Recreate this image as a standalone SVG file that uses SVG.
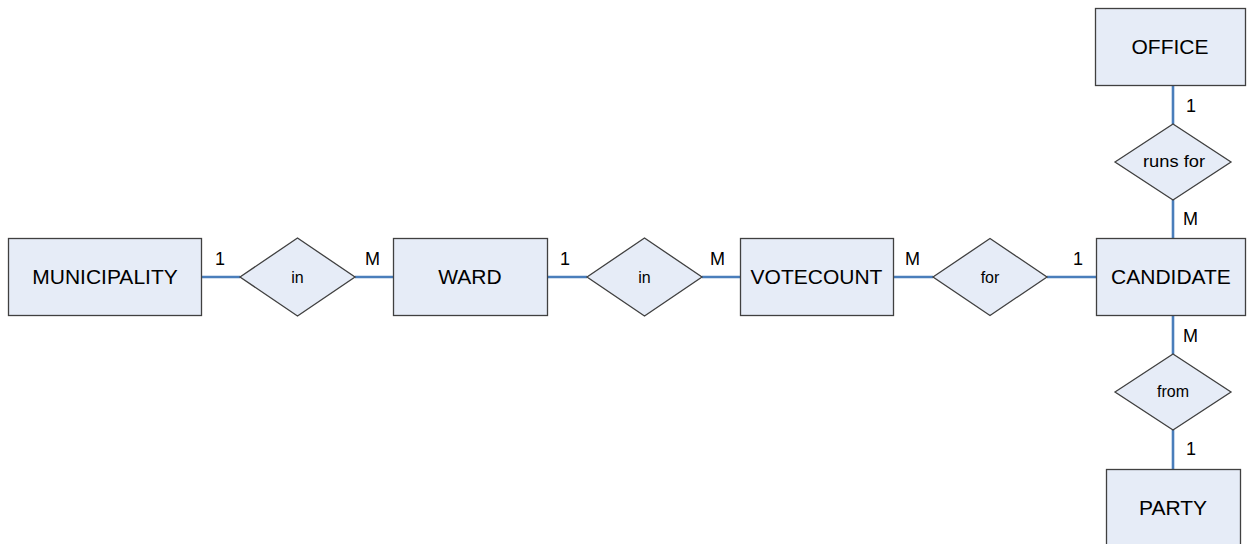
<svg xmlns="http://www.w3.org/2000/svg" width="1247" height="544" viewBox="0 0 1247 544">
<style>
.ent{fill:#E6ECF7;stroke:#404040;stroke-width:1.3}
.rel{fill:#E6ECF7;stroke:#404040;stroke-width:1.3}
.conn{stroke:#4A7EBB;stroke-width:2.6;fill:none}
.et{font-family:"Liberation Sans",Arial,sans-serif;font-size:21px;fill:#000;text-anchor:middle}
.rt{font-family:"Liberation Sans",Arial,sans-serif;font-size:16px;fill:#000;text-anchor:middle}
.card{font-family:"Liberation Sans",Arial,sans-serif;font-size:18px;fill:#000}
</style>
<rect width="1247" height="544" fill="#fff"/>
<g id="connectors">
<line class="conn" x1="201" y1="277" x2="240" y2="277"/>
<line class="conn" x1="355" y1="277" x2="393" y2="277"/>
<line class="conn" x1="547" y1="277" x2="587" y2="277"/>
<line class="conn" x1="702" y1="277" x2="740" y2="277"/>
<line class="conn" x1="893" y1="277" x2="933" y2="277"/>
<line class="conn" x1="1047" y1="277" x2="1096" y2="277"/>
<line class="conn" x1="1173" y1="85" x2="1173" y2="124"/>
<line class="conn" x1="1173" y1="200" x2="1173" y2="239"/>
<line class="conn" x1="1173" y1="315" x2="1173" y2="354"/>
<line class="conn" x1="1173" y1="430" x2="1173" y2="469"/>
</g>
<g id="municipality"><rect class="ent" x="8.5" y="238.5" width="193" height="77"/><text class="et" x="105" y="284">MUNICIPALITY</text></g>
<g id="in1"><polygon class="rel" points="240,277 297.5,238 355,277 297.5,316"/><text class="rt" x="297.5" y="283">in</text></g>
<g id="ward"><rect class="ent" x="393.5" y="238.5" width="154" height="77"/><text class="et" x="470" y="284">WARD</text></g>
<g id="in2"><polygon class="rel" points="587,277 644.5,238 702,277 644.5,316"/><text class="rt" x="644.5" y="283">in</text></g>
<g id="votecount"><rect class="ent" x="740.5" y="238.5" width="153" height="77"/><text class="et" x="816.5" y="284">VOTECOUNT</text></g>
<g id="for"><polygon class="rel" points="933,277 990,238.5 1047,277 990,315.5"/><text class="rt" x="990" y="283">for</text></g>
<g id="candidate"><rect class="ent" x="1096.5" y="238.5" width="149" height="77"/><text class="et" x="1171" y="284">CANDIDATE</text></g>
<g id="office"><rect class="ent" x="1095.5" y="8.5" width="150" height="77"/><text class="et" x="1170" y="54">OFFICE</text></g>
<g id="runsfor"><polygon class="rel" points="1115,162 1173,124 1231,162 1173,200"/><text class="rt" x="1174" y="167" textLength="62" lengthAdjust="spacingAndGlyphs">runs for</text></g>
<g id="from"><polygon class="rel" points="1115,392 1173,354 1231,392 1173,430"/><text class="rt" x="1173" y="397">from</text></g>
<g id="party"><rect class="ent" x="1106.5" y="469.5" width="134" height="90"/><text class="et" x="1173" y="515">PARTY</text></g>
<g id="cardinalities">
<text class="card" x="215" y="265">1</text>
<text class="card" x="365" y="265">M</text>
<text class="card" x="560" y="265">1</text>
<text class="card" x="710" y="265">M</text>
<text class="card" x="905" y="265">M</text>
<text class="card" x="1073" y="265">1</text>
<text class="card" x="1186" y="112">1</text>
<text class="card" x="1183" y="225">M</text>
<text class="card" x="1183" y="342">M</text>
<text class="card" x="1186" y="455">1</text>
</g>
</svg>
